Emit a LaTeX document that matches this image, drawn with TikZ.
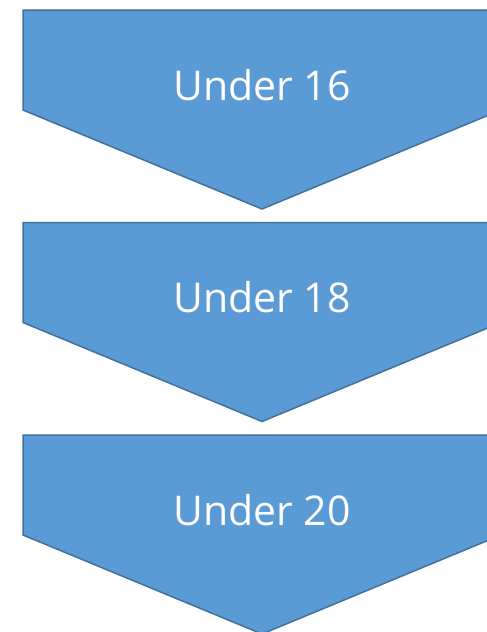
\documentclass[tikz,border=0pt]{standalone}
\usepackage{fontspec}
\setmainfont{Open Sans}
\definecolor{stepfill}{HTML}{5B9BD5}
\definecolor{stepline}{HTML}{41719C}
\tikzset{
  chevron/.style={fill=stepfill, draw=stepline, line width=1.5pt, line join=miter},
  chevtext/.style={text=white, anchor=base, font=\fontsize{41}{48}\selectfont}
}
% top edge y, node name, label
\def\chevron(#1)(#2)(#3){
  \draw[chevron] (23, #1) -- (501, #1) -- (501, #1+100) -- (262, #1+199) -- (23, #1+100) -- cycle;
  \node[chevtext] (#2) at (262, #1+90) {#3};
}
\begin{document}
\begin{tikzpicture}[x=1pt, y=-1pt]
			\useasboundingbox (0, 0) rectangle (487, 632);
			
			\chevron(10)(under16)(Under 16)
			\chevron(222.5)(under18)(Under 18)
			\chevron(435)(under20)(Under 20)
			
		\end{tikzpicture}
\end{document}
